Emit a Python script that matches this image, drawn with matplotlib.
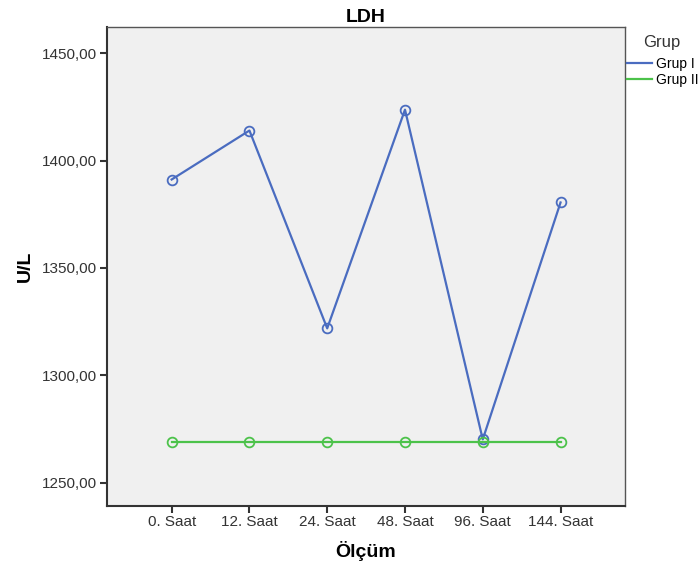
import matplotlib

matplotlib.use("Agg")

import matplotlib.pyplot as plt
from matplotlib.lines import Line2D

plt.rcParams["font.family"] = ["Liberation Sans", "DejaVu Sans"]

time_labels = ["0. Saat", "12. Saat", "24. Saat", "48. Saat", "96. Saat", "144. Saat"]
grup_1_values = [1391.2, 1414.0, 1321.9, 1423.7, 1270.2, 1380.5]
grup_2_values = [1268.8, 1268.8, 1268.8, 1268.8, 1268.8, 1268.8]
y_ticks = [1250, 1300, 1350, 1400, 1450]
series_names = ["Grup I", "Grup II"]

BLUE = "#4a6cc0"
GREEN = "#4cc24a"

figure = plt.figure(figsize=(7, 5.67), dpi=100)
axis = figure.add_axes([0.153, 0.108, 0.74, 0.844])
axis.set_facecolor("#f0f0f0")

positions = range(len(time_labels))

for values, color in zip(
    [grup_1_values, grup_2_values],
    [BLUE, GREEN],
):
    axis.plot(
        positions,
        values,
        color=color,
        linewidth=1.6,
        marker="o",
        markersize=7,
        markerfacecolor="none",
        markeredgecolor=color,
        markeredgewidth=1.3,
    )

axis.set_xlim(-0.83, 5.83)
axis.set_ylim(1239.3, 1462.1)
axis.set_xticks(list(positions))
axis.set_xticklabels(time_labels)
axis.set_yticks(y_ticks)
axis.set_yticklabels([f"{tick:.2f}".replace(".", ",") for tick in y_ticks])
axis.tick_params(labelsize=11, colors="#333333", length=5, width=1.5, pad=2)

for side in ["top", "right"]:
    axis.spines[side].set_color("#555555")
    axis.spines[side].set_linewidth(1.0)
for side in ["left", "bottom"]:
    axis.spines[side].set_color("#333333")
    axis.spines[side].set_linewidth(1.5)

axis.set_title("LDH", fontsize=14, fontweight="bold", pad=4)
axis.set_xlabel("Ölçüm", fontsize=14, fontweight="bold", labelpad=8)
axis.set_ylabel("U/L", fontsize=14, fontweight="bold", labelpad=6)

# legend outside the plot, line handles only
handles = [
    Line2D([], [], color=BLUE, linewidth=1.6),
    Line2D([], [], color=GREEN, linewidth=1.6),
]
figure.text(643 / 700, 1 - 42 / 567, "Grup", fontsize=12, color="#333333", va="center")
axis.legend(
    handles,
    series_names,
    loc="upper left",
    bbox_to_anchor=(627 / 700, 1 - 57 / 567),
    bbox_transform=figure.transFigure,
    frameon=False,
    fontsize=10,
    handlelength=1.8,
    handletextpad=0.3,
    labelspacing=0.15,
    borderaxespad=0.0,
    borderpad=0.0,
)

figure.savefig("out.png", dpi=100)
